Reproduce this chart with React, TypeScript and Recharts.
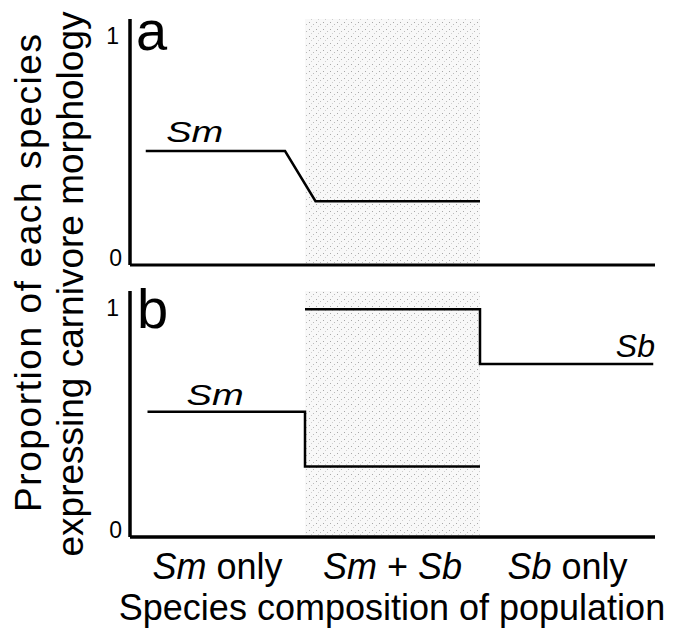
import React from 'react';
import { LineChart, Line, XAxis, YAxis, ReferenceArea, ReferenceDot, ReferenceLine } from 'recharts';

const FONT = '"Liberation Sans", Arial, Helvetica, sans-serif';

// x axis: three population types, each one unit wide
const categories = ['Sm only', 'Sm + Sb', 'Sb only'];
const categoryCenters = [0.5, 1.5, 2.5];
const yTicks = [0, 1];

// panel a: Sm proportion
const smA = [
  { x: 0.09, y: 0.5 },
  { x: 0.886, y: 0.5 },
  { x: 1.06, y: 0.28 },
  { x: 2.0, y: 0.28 },
];

// panel b: Sm and Sb proportions
const smB = [
  { x: 0.1, y: 0.55 },
  { x: 1.0, y: 0.55 },
  { x: 1.0, y: 0.31 },
  { x: 2.0, y: 0.31 },
];
const sbB = [
  { x: 1.0, y: 1.0 },
  { x: 2.0, y: 1.0 },
  { x: 2.0, y: 0.76 },
  { x: 2.99, y: 0.76 },
];

// series name tags, in data coordinates
const tagsA = [{ text: 'Sm', x: 0.37, y: 0.54, anchor: 'middle' }];
const tagsB = [
  { text: 'Sm', x: 0.486, y: 0.58, anchor: 'middle' },
  { text: 'Sb', x: 3.0, y: 0.79, anchor: 'end' },
];

const Y_MAX = 1.08;

const YTick = (props: any) => {
  const { x, y, payload } = props;
  const isZero = payload.value === 0;
  return (
    <text
      x={isZero ? x : x - 3}
      y={y + (isZero ? -7 : -1)}
      dy="0.35em"
      textAnchor="end"
      fontSize={23}
      fontFamily={FONT}
      fill="#000"
    >
      {payload.value}
    </text>
  );
};

const XTick = (props: any) => {
  const { x, y, payload } = props;
  const idx = categoryCenters.indexOf(payload.value);
  if (idx < 0) return null;
  const words = categories[idx].split(' ');
  return (
    <text x={x} y={y + 34} textAnchor="middle" fontSize={36} fontFamily={FONT} fill="#000">
      {words.map((w, i) => (
        <tspan key={i} fontStyle={/^S[mb]$/.test(w) ? 'italic' : 'normal'}>
          {(i ? ' ' : '') + w}
        </tspan>
      ))}
    </text>
  );
};

const tagLabel = (text: string, anchor: string) => (p: any) => {
  const vb = p.viewBox || {};
  const x = vb.x ?? p.x;
  const y = vb.y ?? p.y;
  const isSm = text === 'Sm';
  return (
    <text
      x={x}
      y={y}
      textAnchor={anchor}
      fontSize={isSm ? 29 : 32}
      fontStyle="italic"
      fontFamily={FONT}
      fill="#000"
      textLength={isSm ? 57 : undefined}
      lengthAdjust="spacingAndGlyphs"
    >
      {text}
    </text>
  );
};

const Stipple = ({ id }: { id: string }) => (
  <defs>
    <pattern id={id} width="7" height="7" patternUnits="userSpaceOnUse">
      <rect width="7" height="7" fill="#f8f8f8" />
      <rect x="1" y="1" width="1" height="1" fill="#a8a8a8" />
      <rect x="5" y="3" width="1" height="1" fill="#bcbcbc" />
      <rect x="3" y="5" width="1" height="1" fill="#cfcfcf" />
    </pattern>
  </defs>
);

const axisLine = { stroke: '#000', strokeWidth: 3 };

export default function App() {
  return (
    <div style={{ position: 'absolute', left: 0, top: 0, width: 684, height: 636, background: '#fff' }}>
      <div style={{ position: 'absolute', left: 0, top: 0 }}>
        <LineChart width={684} height={280} margin={{ top: 19, right: 29, left: 0, bottom: 15 }}>
          <Stipple id="stippleA" />
          <XAxis type="number" dataKey="x" domain={[0, 3]} height={0} tick={false} tickLine={false} axisLine={axisLine} />
          <YAxis
            type="number"
            domain={[0, Y_MAX]}
            ticks={yTicks}
            width={130}
            tickLine={false}
            axisLine={axisLine}
            tick={<YTick />}
          />
          <ReferenceArea x1={1} x2={2} y1={0} y2={Y_MAX} fill="url(#stippleA)" fillOpacity={1} stroke="none" />
          <ReferenceLine y={0} stroke="#000" strokeWidth={3} />
          <ReferenceLine x={0} stroke="#000" strokeWidth={3} />
          <Line data={smA} dataKey="y" type="linear" stroke="#000" strokeWidth={2.5} dot={false} isAnimationActive={false} />
          {tagsA.map((t) => (
            <ReferenceDot key={t.text} x={t.x} y={t.y} r={0} fill="none" stroke="none" label={tagLabel(t.text, t.anchor)} />
          ))}
        </LineChart>
      </div>
      <div style={{ position: 'absolute', left: 0, top: 270 }}>
        <LineChart width={684} height={366} margin={{ top: 21, right: 29, left: 0, bottom: 0 }}>
          <Stipple id="stippleB" />
          <XAxis
            type="number"
            dataKey="x"
            domain={[0, 3]}
            ticks={categoryCenters}
            height={99}
            tickLine={false}
            axisLine={axisLine}
            tick={<XTick />}
            interval={0}
          />
          <YAxis
            type="number"
            domain={[0, Y_MAX]}
            ticks={yTicks}
            width={130}
            tickLine={false}
            axisLine={axisLine}
            tick={<YTick />}
          />
          <ReferenceArea x1={1} x2={2} y1={0} y2={Y_MAX} fill="url(#stippleB)" fillOpacity={1} stroke="none" />
          <ReferenceLine y={0} stroke="#000" strokeWidth={3} />
          <ReferenceLine x={0} stroke="#000" strokeWidth={3} />
          <Line data={smB} dataKey="y" type="linear" stroke="#000" strokeWidth={2.5} dot={false} isAnimationActive={false} />
          <Line data={sbB} dataKey="y" type="linear" stroke="#000" strokeWidth={2.5} dot={false} isAnimationActive={false} />
          {tagsB.map((t) => (
            <ReferenceDot key={t.text} x={t.x} y={t.y} r={0} fill="none" stroke="none" label={tagLabel(t.text, t.anchor)} />
          ))}
        </LineChart>
      </div>
      <svg
        width={684}
        height={636}
        style={{ position: 'absolute', left: 0, top: 0, pointerEvents: 'none' }}
        fontFamily={FONT}
        fill="#000"
      >
        <text x={136} y={50} fontSize={56}>a</text>
        <text x={137} y={328} fontSize={56}>b</text>
        <text
          transform="translate(41,273) rotate(-90)"
          textAnchor="middle"
          fontSize={37}
          textLength={478}
          lengthAdjust="spacing"
        >
          Proportion of each species
        </text>
        <text transform="translate(83,284) rotate(-90)" textAnchor="middle" fontSize={37}>
          expressing carnivore morphology
        </text>
        <text x={392} y={620} textAnchor="middle" fontSize={36}>
          Species composition of population
        </text>
      </svg>
    </div>
  );
}
